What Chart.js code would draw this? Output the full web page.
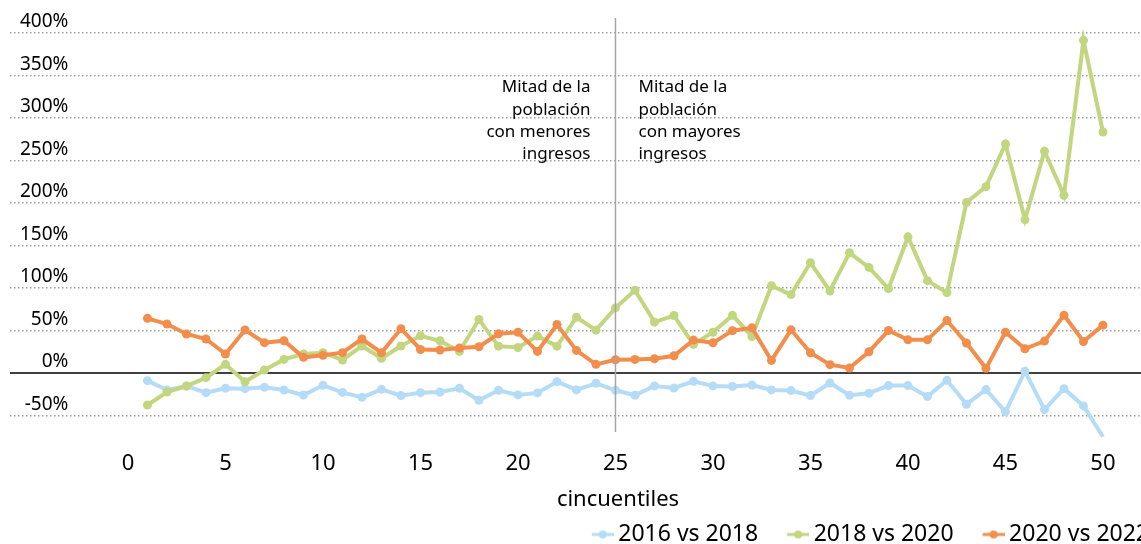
<!DOCTYPE html>
<html>
<head>
<meta charset="utf-8">
<script src="https://cdn.jsdelivr.net/npm/chart.js@4.4.0/dist/chart.umd.min.js"></script>
<style>
  html, body { margin: 0; padding: 0; overflow: hidden; background: #fff; }
  #wrap { width: 1226px; height: 544px; }
</style>
</head>
<body>
<div id="wrap"><canvas id="grafico" width="1226" height="544"></canvas></div>
<script>
// datos
var cincuentiles = [1, 2, 3, 4, 5, 6, 7, 8, 9, 10, 11, 12, 13, 14, 15, 16, 17, 18, 19, 20, 21, 22, 23, 24, 25,
  26, 27, 28, 29, 30, 31, 32, 33, 34, 35, 36, 37, 38, 39, 40, 41, 42, 43, 44, 45, 46, 47, 48, 49, 50];
var serie2016vs2018 = [-9, -20, -15.3, -23.1, -18, -18.4, -16.9, -20, -25.9, -14.5, -22.8, -28.6, -19.2, -26.6, -23.1,
  -22.3, -18, -32, -20.3, -25.8, -23.4, -10.2, -19.9, -12.1, -20.3, -26.2, -15.2, -17.6, -9.8, -15.2,
  -15.8, -14.1, -19.9, -20.7, -26.6, -11.7, -26.2, -23.8, -14.8, -14.8, -27.7, -8.6, -36.7, -19.5, -45.7,
  2, -43, -18.4, -38.7, -75];
var serie2018vs2020 = [-37.6, -22.4, -15.3, -5.5, 10.2, -10.2, 3.5, 16, 22.4, 23.9, 15.3, 31.8, 17.3, 31.7, 43.8,
  37.9, 25.4, 62.9, 31.6, 30, 43.4, 31.6, 65.6, 50.4, 76.6, 97.3, 59.8, 67.6, 33.6, 48,
  67.8, 43, 102.7, 92.2, 129.7, 96.5, 141.4, 124.2, 99.2, 160.2, 108.6, 94.5, 200.6, 219.2, 269.4,
  180.5, 260.8, 209, 391.4, 283.5];
var serie2020vs2022 = [64.3, 57.6, 45.9, 40, 22.4, 50.6, 35.7, 38, 18.4, 20.8, 23.9, 40, 23.9, 52.1, 27.7,
  27, 29.3, 30.9, 46.1, 48, 25.4, 57, 26.6, 10.2, 15.6, 16, 16.8, 20.3, 38.7, 35.5,
  49.8, 53.1, 14.8, 50.8, 23.8, 9.8, 5.9, 25, 50, 39, 39, 61.7, 35.2, 5.5, 48,
  28.5, 37.5, 68, 37.1, 56.3];
var etiquetas = ["2016 vs 2018", "2018 vs 2020", "2020 vs 2022"];
var ticksX = [0, 5, 10, 15, 20, 25, 30, 35, 40, 45, 50];
var ticksY = [-50, 0, 50, 100, 150, 200, 250, 300, 350, 400];
var mitad = 25;
var notaIzq = ["Mitad de la", "población", "con menores", "ingresos"];
var notaDer = ["Mitad de la", "población", "con mayores", "ingresos"];

var colores = ["#b5dcf6", "#c1d67f", "#f28d4c"];

Chart.defaults.font.family = "'Noto Sans', sans-serif";
Chart.defaults.color = "#000";

function puntos(serie) {
  return serie.map(function (v, i) { return { x: cincuentiles[i], y: v }; });
}

// marcador de leyenda: linea con punto
function marcador(color) {
  var c = document.createElement("canvas");
  c.width = 29;
  c.height = 12;
  var g = c.getContext("2d");
  g.strokeStyle = color;
  g.lineWidth = 3;
  g.beginPath();
  g.moveTo(7, 6);
  g.lineTo(29, 6);
  g.stroke();
  g.fillStyle = color;
  g.beginPath();
  g.arc(18, 6, 4, 0, Math.PI * 2);
  g.fill();
  return c;
}
var marcadores = colores.map(marcador);

function serie(i, valores, orden) {
  return {
    label: etiquetas[i],
    data: puntos(valores),
    borderColor: colores[i],
    backgroundColor: colores[i],
    pointBackgroundColor: colores[i],
    borderWidth: 4,
    pointRadius: 4.5,
    pointBorderWidth: 0,
    pointHoverRadius: 4.5,
    tension: 0,
    clip: false,
    order: orden
  };
}

var extras = {
  id: "extras",
  afterLayout: function (chart) {
    // la leyenda va corrida hacia la izquierda, como en el original
    chart.legend.left -= 48;
    chart.legend.right -= 48;
  },
  beforeDatasetsDraw: function (chart) {
    var ctx = chart.ctx, a = chart.chartArea;
    var y0 = chart.scales.y.getPixelForValue(0);
    ctx.save();
    ctx.strokeStyle = "#000";
    ctx.lineWidth = 1.5;
    ctx.beginPath();
    ctx.moveTo(a.left, y0);
    ctx.lineTo(a.right, y0);
    ctx.stroke();
    ctx.restore();
  },
  afterDatasetsDraw: function (chart) {
    var ctx = chart.ctx, a = chart.chartArea;
    var xm = chart.scales.x.getPixelForValue(mitad);
    ctx.save();
    ctx.strokeStyle = "#a6a6a6";
    ctx.lineWidth = 1.5;
    ctx.beginPath();
    ctx.moveTo(xm, a.top);
    ctx.lineTo(xm, a.bottom);
    ctx.stroke();
    ctx.fillStyle = "#000";
    ctx.font = "17px 'Noto Sans'";
    ctx.textBaseline = "middle";
    ctx.textAlign = "right";
    notaIzq.forEach(function (t, i) { ctx.fillText(t, xm - 25, a.top + 69.5 + i * 22.3); });
    ctx.textAlign = "left";
    notaDer.forEach(function (t, i) { ctx.fillText(t, xm + 23, a.top + 69.5 + i * 22.3); });
    ctx.restore();
  }
};

new Chart(document.getElementById("grafico"), {
  type: "line",
  data: {
    datasets: [
      serie(0, serie2016vs2018, 3),
      serie(1, serie2018vs2020, 2),
      serie(2, serie2020vs2022, 1)
    ]
  },
  options: {
    responsive: false,
    animation: false,
    layout: { autoPadding: false, padding: { top: 18, left: 10, right: 0, bottom: 0 } },
    scales: {
      x: {
        type: "linear",
        min: -6.05,
        max: 56.31,
        afterBuildTicks: function (s) { s.ticks = ticksX.map(function (v) { return { value: v }; }); },
        afterFit: function (s) { s.height = 62; s.paddingLeft = 0; s.paddingRight = 0; },
        grid: { display: false, drawTicks: false },
        border: { display: false },
        ticks: { padding: 19, autoSkip: false, maxRotation: 0, color: "#000", font: { size: 22 } },
        title: { display: true, text: "cincuentiles", color: "#000", font: { size: 22 }, padding: { top: 0, bottom: -19 } }
      },
      y: {
        min: -69.4,
        max: 417.6,
        afterBuildTicks: function (s) { s.ticks = ticksY.map(function (v) { return { value: v }; }); },
        afterFit: function (s) { s.width = 0; s.paddingTop = 0; s.paddingBottom = 0; },
        grid: {
          drawTicks: false,
          lineWidth: 1.5,
          color: function (c) { return c.tick && c.tick.value === 0 ? "rgba(0,0,0,0)" : "#9d9d9d"; }
        },
        border: { display: false, dash: [1.5, 2.5] },
        ticks: {
          mirror: true,
          crossAlign: "far",
          padding: 10,
          labelOffset: -11,
          color: "#000",
          font: { size: 19 },
          callback: function (v) { return v + "%"; }
        }
      }
    },
    plugins: {
      tooltip: { enabled: false },
      legend: {
        position: "bottom",
        align: "end",
        maxHeight: 50,
        labels: {
          usePointStyle: true,
          pointStyleWidth: 15,
          padding: 29,
          color: "#000",
          font: { size: 23 },
          sort: function (a, b) { return a.datasetIndex - b.datasetIndex; },
          generateLabels: function (chart) {
            var items = Chart.defaults.plugins.legend.labels.generateLabels(chart);
            items.forEach(function (it) { it.pointStyle = marcadores[it.datasetIndex]; });
            return items;
          }
        }
      }
    }
  },
  plugins: [extras]
});
</script>
</body>
</html>
